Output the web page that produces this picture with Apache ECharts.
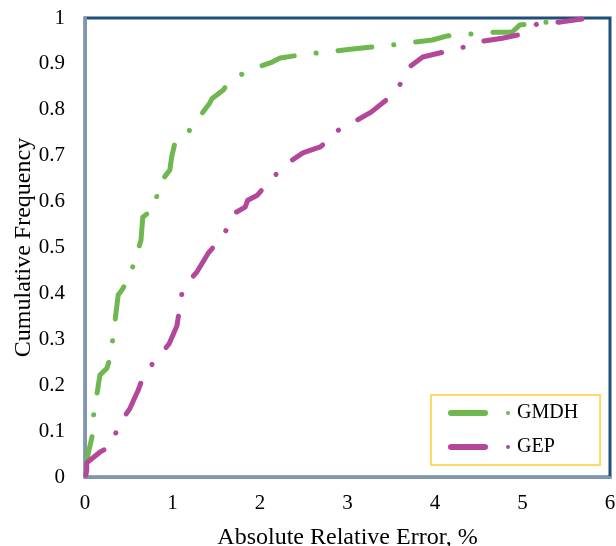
<!DOCTYPE html>
<html>
<head>
<meta charset="utf-8">
<script src="https://cdn.jsdelivr.net/npm/echarts@6/dist/echarts.min.js"></script>
<style>
  html, body { margin: 0; padding: 0; background: #fff; }
  #chart { width: 616px; height: 546px; }
</style>
</head>
<body>
<div id="chart"></div>
<script>
// Cumulative frequency of absolute relative error (%) for two models
const seriesNames = ['GMDH', 'GEP'];

const gmdhError = [0.01, 0.02, 0.09, 0.10, 0.14, 0.17, 0.25, 0.29, 0.32, 0.35, 0.38, 0.42, 0.49, 0.57, 0.64, 0.66, 0.81, 0.83, 0.97, 0.99, 1.03, 1.14, 1.28, 1.42, 1.45, 1.58, 1.62, 1.70, 1.92, 2.14, 2.23, 2.55, 2.79, 3.03, 3.49, 3.71, 3.97, 4.14, 4.40, 4.64, 4.88, 4.97, 5.29, 5.43];
const gmdhFreq  = [0.015, 0.037, 0.096, 0.139, 0.185, 0.222, 0.237, 0.261, 0.305, 0.351, 0.397, 0.407, 0.429, 0.471, 0.516, 0.566, 0.588, 0.634, 0.669, 0.697, 0.730, 0.741, 0.778, 0.813, 0.824, 0.843, 0.854, 0.869, 0.889, 0.904, 0.913, 0.922, 0.926, 0.932, 0.941, 0.946, 0.952, 0.961, 0.965, 0.969, 0.969, 0.985, 0.991, 1.0];

const gepError = [0.01, 0.02, 0.02, 0.17, 0.31, 0.38, 0.51, 0.61, 0.65, 0.71, 0.82, 0.96, 1.05, 1.09, 1.11, 1.18, 1.28, 1.41, 1.57, 1.69, 1.71, 1.83, 1.86, 1.97, 2.14, 2.30, 2.49, 2.69, 2.78, 2.83, 3.05, 3.27, 3.46, 3.58, 3.62, 3.69, 3.86, 4.10, 4.34, 4.43, 4.77, 5.00, 5.18, 5.43, 5.68];
const gepFreq  = [0.004, 0.015, 0.031, 0.054, 0.070, 0.113, 0.148, 0.190, 0.211, 0.233, 0.257, 0.290, 0.329, 0.377, 0.403, 0.425, 0.447, 0.488, 0.523, 0.564, 0.575, 0.588, 0.603, 0.614, 0.651, 0.682, 0.706, 0.719, 0.734, 0.749, 0.771, 0.795, 0.824, 0.845, 0.865, 0.891, 0.915, 0.926, 0.937, 0.946, 0.956, 0.965, 0.989, 0.991, 0.998];

const xTicks = ['0', '1', '2', '3', '4', '5', '6'];
const yTicks = ['0', '0.1', '0.2', '0.3', '0.4', '0.5', '0.6', '0.7', '0.8', '0.9', '1'];

const colors = ['#6eb84f', '#b4479a'];
const font = '"Liberation Serif", "Times New Roman", serif';

function pairs(xs, ys) { return xs.map((x, i) => [x, ys[i]]); }

// long dash, gap, dot, gap
const dashDot = [34, 22, 0.1, 22];
// legend glyph: rounded bar followed by a dot
const legendIcon = 'path://M3,0 L37,0 A3,3 0 0 1 37,6 L3,6 A3,3 0 0 1 3,0 Z M60,1 A2,2 0 1 1 60,5 A2,2 0 1 1 60,1 Z';

const chart = echarts.init(document.getElementById('chart'), null, { renderer: 'canvas' });
chart.setOption({
  animation: false,
  backgroundColor: '#ffffff',
  textStyle: { fontFamily: font, color: '#000' },
  grid: {
    left: 85, right: 6, top: 18, bottom: 69,
    outerBoundsMode: 'none',
    show: true, borderColor: '#1f4e79', borderWidth: 3, backgroundColor: '#fff'
  },
  legend: {
    orient: 'vertical',
    left: 431, top: 395,
    padding: [8, 22, 8, 17],
    itemGap: 14,
    itemWidth: 62, itemHeight: 6,
    borderColor: '#ffd966', borderWidth: 2,
    backgroundColor: '#fff',
    textStyle: { fontFamily: font, fontSize: 20, color: '#000', padding: [0, 0, 0, 2] },
    data: seriesNames.map(n => ({ name: n, icon: legendIcon }))
  },
  xAxis: {
    type: 'value', min: 0, max: 6, interval: 1,
    name: 'Absolute Relative Error, %',
    nameLocation: 'middle', nameGap: 49, nameMoveOverlap: false,
    nameTextStyle: { fontFamily: font, fontSize: 24, color: '#000' },
    axisLine: { show: true, lineStyle: { color: '#8195ad', width: 3 } },
    axisTick: { show: false },
    splitLine: { show: false },
    axisLabel: { fontFamily: font, fontSize: 21, color: '#000', margin: 16,
      formatter: v => xTicks[Math.round(v)] }
  },
  yAxis: {
    type: 'value', min: 0, max: 1, interval: 0.1,
    name: 'Cumulative Frequency',
    nameLocation: 'middle', nameGap: 49, nameRotate: 90, nameMoveOverlap: false,
    nameTextStyle: { fontFamily: font, fontSize: 24, color: '#000' },
    axisLine: { show: true, lineStyle: { color: '#8195ad', width: 3 } },
    axisTick: { show: false },
    splitLine: { show: false },
    axisLabel: { fontFamily: font, fontSize: 21, color: '#000', margin: 20,
      formatter: v => yTicks[Math.round(v * 10)] }
  },
  series: [
    {
      name: seriesNames[0], type: 'line', showSymbol: false, symbol: 'none',
      data: pairs(gmdhError, gmdhFreq),
      itemStyle: { color: colors[0] },
      lineStyle: { color: colors[0], width: 5, type: dashDot, cap: 'round', join: 'round' }
    },
    {
      name: seriesNames[1], type: 'line', showSymbol: false, symbol: 'none',
      data: pairs(gepError, gepFreq),
      itemStyle: { color: colors[1] },
      lineStyle: { color: colors[1], width: 5, type: dashDot, cap: 'round', join: 'round' }
    }
  ]
});
</script>
</body>
</html>
